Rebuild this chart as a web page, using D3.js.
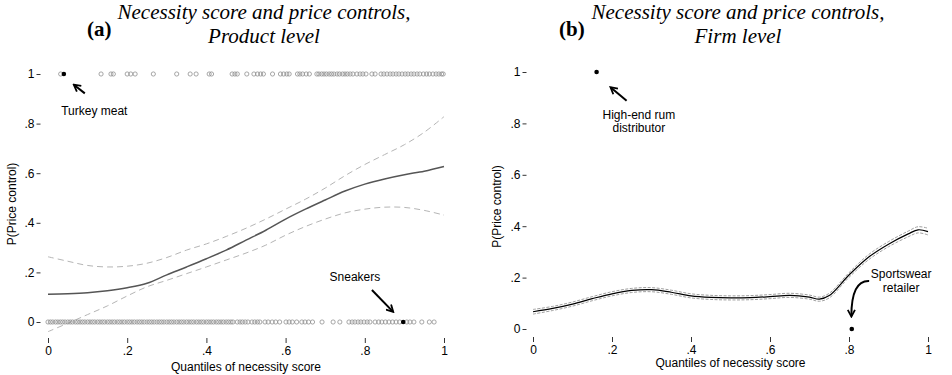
<!DOCTYPE html>
<html>
<head>
<meta charset="utf-8">
<script src="https://cdn.jsdelivr.net/npm/d3@7"></script>
<style>
  body { margin: 0; background: #fff; }
  text { font-family: "Liberation Sans", Arial, sans-serif; }
</style>
</head>
<body>
<svg id="chart" width="952" height="375"></svg>
<script>
// tick values shared by both panels
const tickVals = [0, 0.2, 0.4, 0.6, 0.8, 1]

// panel (a): product level
const gridA = [0, .05, .1, .15, .2, .25, .3, .35, .4, .45, .5, .55, .6, .65, .7, .75, .8, .85, .9, .95, 1]
const fitA = [.112, .114, .118, .126, .138, .156, .19, .222, .255, .29, .33, .37, .415, .455, .492, .528, .556, .577, .594, .608, .627]
const upperA = [.263, .245, .228, .222, .225, .237, .26, .29, .315, .345, .378, .415, .455, .495, .54, .59, .635, .675, .715, .765, .828]
const lowerA = [-.039, -.005, .03, .065, .105, .142, .168, .195, .222, .25, .278, .31, .35, .385, .415, .44, .455, .463, .462, .45, .431]

// products with a price control (y = 1)
const controlledA = [.032, .134, .159, .165, .200, .209, .220, .266, .325, .359, .374, .407, .413,
  .465, .472, .478, .502, .520, .529, .537, .544, .567, .587, .595, .603, .609, .630, .636, .643,
  .652, .660, .679, .684, .691, .697, .703, .710, .716, .722, .730, .736, .744, .750, .756, .763,
  .770, .780, .788, .795, .803, .818, .826, .841, .848, .856, .864, .871, .879, .886, .894, .902,
  .909, .917, .924, .932, .939, .948, .956, .963, .972, .980, .987, .994, .998]
// products without a price control (y = 0)
const freeA = [0, .006, .012, .019, .025, .031, .037, .043, .05, .056, .062, .069, .075, .081, .087,
  .093, .1, .106, .112, .118, .125, .131, .137, .143, .15, .156, .162, .168, .175, .181, .187, .193,
  .2, .206, .212, .218, .225, .231, .237, .243, .25, .256, .262, .268, .275, .281, .287, .293, .3,
  .306, .312, .318, .325, .331, .337, .343, .35, .356, .362, .368, .375, .381, .387, .393, .4, .406,
  .412, .418, .425, .431, .437, .443, .45, .456, .462, .467,
  .478, .485, .491, .498, .505, .515, .522, .529, .535, .548, .556, .566, .575, .585,
  .601, .609, .617, .628, .641, .649, .658, .668, .692, .720, .737,
  .760, .768, .775, .783, .790, .798, .806, .813, .826, .835, .843, .852, .861, .870, .879, .888,
  .906, .914, .924, .944, .963, .975]
const turkeyMeat = [.040, 1]
const sneakers = [.897, 0]

// panel (b): firm level
const gridB = [0, .05, .1, .15, .2, .25, .3, .35, .4, .45, .5, .55, .6, .65, .7, .725, .75, .8, .85, .9, .95, .975, 1]
const fitB = [.067, .08, .097, .118, .137, .15, .153, .143, .129, .123, .121, .122, .126, .131, .124, .116, .13, .21, .28, .33, .37, .386, .379]
const upperB = [.076, .088, .105, .126, .145, .158, .161, .151, .137, .131, .129, .130, .134, .139, .132, .124, .139, .219, .29, .34, .381, .398, .392]
const lowerB = [.058, .072, .089, .110, .129, .142, .145, .135, .121, .115, .113, .114, .118, .123, .116, .108, .121, .201, .27, .32, .359, .374, .366]
const rumDistributor = [.161, 1]
const sportswearRetailer = [.807, 0]

const svg = d3.select('#chart')

// arrow head shared by annotations
svg.append('defs').append('marker')
  .attr('id', 'head')
  .attr('viewBox', '0 0 10 10')
  .attr('refX', 8).attr('refY', 5)
  .attr('markerWidth', 9).attr('markerHeight', 9)
  .attr('markerUnits', 'userSpaceOnUse')
  .attr('orient', 'auto')
  .append('path')
  .attr('d', 'M1,1 L8.5,5 L1,9')
  .attr('fill', 'none')
  .attr('stroke', '#000')
  .attr('stroke-width', 2)

const fmt = d => d === 0 ? '0' : d === 1 ? '1' : d3.format('.1f')(d).replace(/^0/, '')

function drawPanel(p) {
  const x = d3.scaleLinear().domain([0, 1]).range(p.xRange)
  const y = d3.scaleLinear().domain([0, 1]).range(p.yRange)
  const g = svg.append('g')

  // title
  g.append('text').attr('x', p.letterX).attr('y', 36)
    .style('font-family', '"Liberation Serif", "Times New Roman", serif')
    .style('font-weight', 'bold').style('font-size', '21px')
    .text(p.letter)
  const t = g.append('text').attr('text-anchor', 'middle')
    .style('font-family', '"Liberation Serif", "Times New Roman", serif')
    .style('font-style', 'italic').style('font-size', '21px')
  t.append('tspan').attr('x', p.titleX).attr('y', 19).text('Necessity score and price controls,')
  t.append('tspan').attr('x', p.titleX).attr('y', 43).text(p.sub)

  // axes (ticks only, no axis line)
  const yAxis = g.append('g')
    .attr('transform', `translate(${p.yAxisX},0)`)
    .call(d3.axisLeft(y).tickValues(tickVals).tickFormat(fmt).tickSize(4).tickPadding(2))
  const xAxis = g.append('g')
    .attr('transform', `translate(0,${p.xAxisY})`)
    .call(d3.axisBottom(x).tickValues(tickVals).tickFormat(fmt).tickSize(5).tickPadding(3))
  for (const ax of [yAxis, xAxis]) {
    ax.select('.domain').remove()
    ax.selectAll('text').style('font-size', '12px').attr('fill', '#000')
      .style('font-family', '"Liberation Sans", Arial, sans-serif')
    ax.selectAll('line').attr('stroke', '#000').attr('stroke-width', 0.8)
  }

  g.append('text').attr('text-anchor', 'middle')
    .attr('x', (p.xRange[0] + p.xRange[1]) / 2).attr('y', p.xTitleY)
    .style('font-size', '12px').text('Quantiles of necessity score')
  g.append('text').attr('text-anchor', 'middle')
    .attr('transform', `translate(${p.yTitleX},${(p.yRange[0] + p.yRange[1]) / 2 + 6}) rotate(-90)`)
    .style('font-size', '12px').text('P(Price control)')

  const line = d3.line().x(d => x(d[0])).y(d => y(d[1])).curve(d3.curveCatmullRom)
  const pts = arr => p.grid.map((v, i) => [v, arr[i]])

  g.append('path').datum(pts(p.upper)).attr('d', line)
    .attr('fill', 'none').attr('stroke', p.ciColor).attr('stroke-width', 1).attr('stroke-dasharray', p.ciDash)
  g.append('path').datum(pts(p.lower)).attr('d', line)
    .attr('fill', 'none').attr('stroke', p.ciColor).attr('stroke-width', 1).attr('stroke-dasharray', p.ciDash)
  g.append('path').datum(pts(p.fit)).attr('d', line)
    .attr('fill', 'none').attr('stroke', p.fitColor).attr('stroke-width', p.fitWidth)

  if (p.ones) {
    g.selectAll('.one').data(p.ones).enter().append('circle')
      .attr('cx', d => x(d)).attr('cy', y(1)).attr('r', 2.1)
      .attr('fill', 'none').attr('stroke', '#909090').attr('stroke-width', 0.8)
    g.selectAll('.zero').data(p.zeros).enter().append('circle')
      .attr('cx', d => x(d)).attr('cy', y(0)).attr('r', 2.1)
      .attr('fill', 'none').attr('stroke', '#909090').attr('stroke-width', 0.8)
  }

  g.selectAll('.hl').data(p.highlights).enter().append('circle')
    .attr('cx', d => x(d[0])).attr('cy', d => y(d[1])).attr('r', 2.3).attr('fill', '#000')

  // annotations
  for (const a of p.notes) {
    const tx = g.append('text').attr('text-anchor', 'middle').style('font-size', '12px')
    const top = y(a.at[1]) + 4 - (a.lines.length - 1) * 1
    a.lines.forEach((s, i) => {
      tx.append('tspan').attr('x', x(a.at[0])).attr('y', top + i * 13.5).text(s)
    })
    let d
    if (a.via) {
      d = `M${x(a.from[0])},${y(a.from[1])} Q${x(a.via[0])},${y(a.via[1])} ${x(a.to[0])},${y(a.to[1])}`
    } else {
      d = `M${x(a.from[0])},${y(a.from[1])} L${x(a.to[0])},${y(a.to[1])}`
    }
    g.append('path').attr('d', d).attr('fill', 'none').attr('stroke', '#000')
      .attr('stroke-width', 2).attr('marker-end', 'url(#head)')
  }
}

drawPanel({
  letter: '(a)', letterX: 87, titleX: 264, sub: 'Product level',
  xRange: [48, 444], yRange: [322, 74], yAxisX: 40.5, xAxisY: 338,
  xTitleY: 371, yTitleX: 16,
  grid: gridA, fit: fitA, upper: upperA, lower: lowerA,
  fitColor: '#555', fitWidth: 1.5, ciColor: '#b5b5b5', ciDash: '6,4',
  ones: controlledA, zeros: freeA,
  highlights: [turkeyMeat, sneakers],
  notes: [
    { lines: ['Turkey meat'], at: [.117, .851], from: [.093, .922], to: [.066, .956] },
    { lines: ['Sneakers'], at: [.775, .183], from: [.818, .129], to: [.871, .042] }
  ]
})

drawPanel({
  letter: '(b)', letterX: 559, titleX: 738, sub: 'Firm level',
  xRange: [533, 928], yRange: [329, 72], yAxisX: 526.5, xAxisY: 337,
  xTitleY: 367, yTitleX: 501,
  grid: gridB, fit: fitB, upper: upperB, lower: lowerB,
  fitColor: '#000', fitWidth: 1.2, ciColor: '#a0a0a0', ciDash: '3,1.5',
  highlights: [rumDistributor, sportswearRetailer],
  notes: [
    { lines: ['High-end rum', 'distributor'], at: [.268, .829], from: [.237, .888], to: [.197, .940] },
    { lines: ['Sportswear', 'retailer'], at: [.932, .210], from: [.851, .187], via: [.806, .19], to: [.806, .05] }
  ]
})
</script>
</body>
</html>
